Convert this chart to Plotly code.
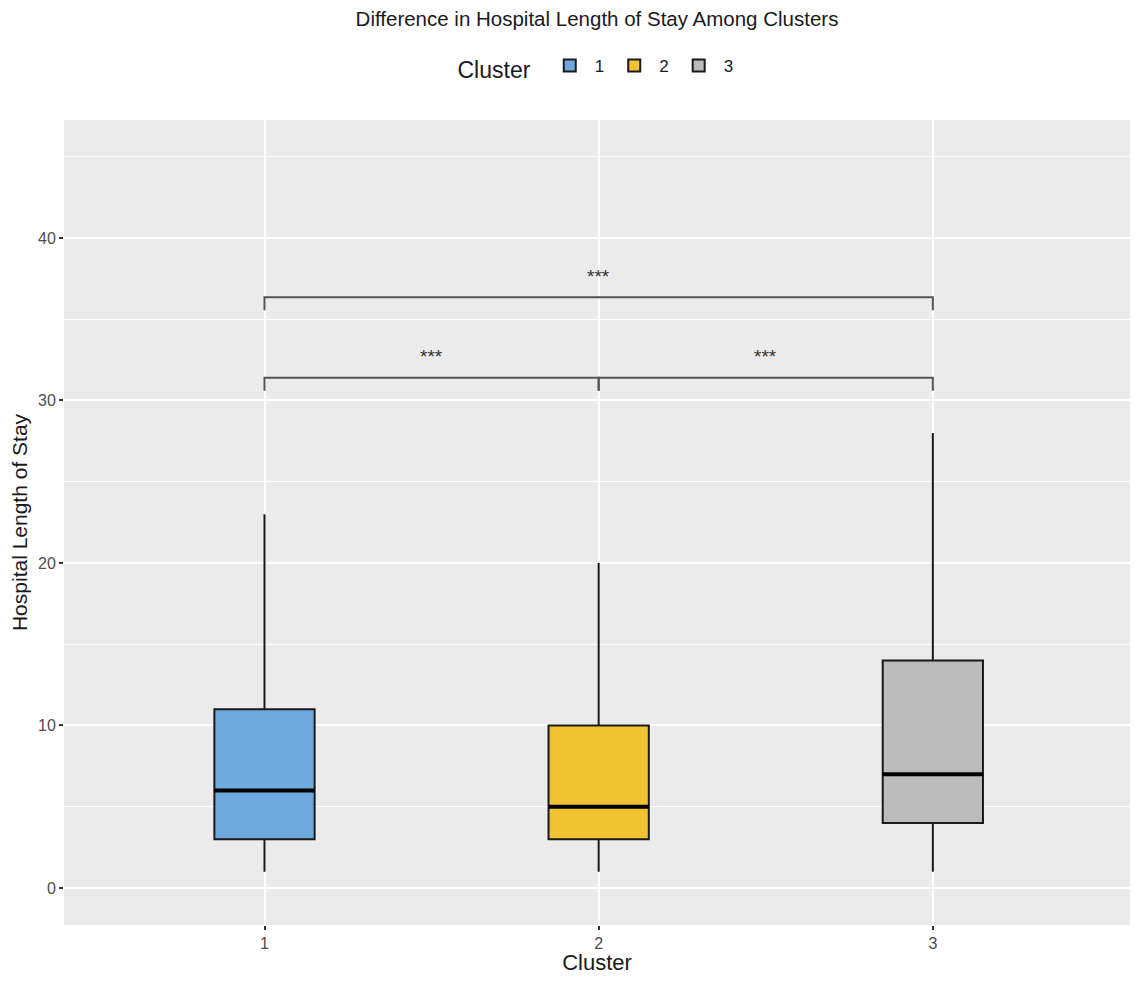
import plotly.graph_objects as go

# box statistics
clusters = [1, 2, 3]
cluster_names = ['1', '2', '3']
q1 = [3, 3, 4]
median = [6, 5, 7]
q3 = [11, 10, 14]
lower_whisker = [1, 1, 1]
upper_whisker = [23, 20, 28]
fill_colors = ['#6FA8DC', '#F1C232', '#BBBBBB']

# significance brackets (pairwise comparisons)
comparisons = [(1, 2), (2, 3), (1, 3)]
bracket_y = [31.4, 31.4, 36.35]
bracket_labels = ['***', '***', '***']
tip_len = 0.8

box_width = 0.3

fig = go.Figure()

for i, c in enumerate(clusters):
    fig.add_trace(go.Box(
        x=[c], q1=[q1[i]], median=[median[i]], q3=[q3[i]],
        lowerfence=[lower_whisker[i]], upperfence=[upper_whisker[i]],
        name=cluster_names[i], width=box_width,
        fillcolor=fill_colors[i], line=dict(color='#1a1a1a', width=2),
        boxpoints=False, whiskerwidth=0, showlegend=True,
        hoverinfo='skip'
    ))
    # thicker median line like ggplot
    fig.add_trace(go.Scatter(
        x=[c - box_width / 2, c + box_width / 2], y=[median[i], median[i]],
        mode='lines', line=dict(color='black', width=4),
        showlegend=False, hoverinfo='skip'
    ))

for (a, b), h, lab in zip(comparisons, bracket_y, bracket_labels):
    fig.add_trace(go.Scatter(
        x=[a, a, b, b], y=[h - tip_len, h, h, h - tip_len],
        mode='lines', line=dict(color='#555555', width=2),
        showlegend=False, hoverinfo='skip'
    ))
    fig.add_annotation(x=(a + b) / 2, y=h + 1.3, text=lab, showarrow=False,
                       font=dict(size=19, color='#333333'))

# page has an 8px body margin, so the figure is kept inside the window
fig.update_layout(
    width=1122, height=967,
    margin=dict(l=56, r=0, t=112, b=50),
    paper_bgcolor='white', plot_bgcolor='#EBEBEB',
    font=dict(family='Liberation Sans, Arial', color='#1a1a1a'),
    title=dict(text='Difference in Hospital Length of Stay Among Clusters',
               x=0.5, xref='paper', xanchor='center', y=0.9885, yanchor='middle',
               font=dict(size=20.5, color='#1a1a1a')),
    legend=dict(orientation='h', x=0.5, xanchor='center', yref='container', y=0.938,
                yanchor='middle',
                title=dict(text='Cluster ', font=dict(size=23)),
                font=dict(size=17), itemwidth=40, bgcolor='rgba(0,0,0,0)'),
    boxgap=0,
)

fig.update_xaxes(
    range=[0.4, 3.59], tickmode='array', tickvals=clusters, ticktext=cluster_names,
    showgrid=True, gridcolor='white', gridwidth=2, zeroline=False,
    ticks='outside', ticklen=4, tickcolor='#333333', tickwidth=2,
    tickfont=dict(size=16, color='#4D4D4D'), automargin=False,
    title=dict(text='Cluster', font=dict(size=22), standoff=11),
)
fig.update_yaxes(
    range=[-2.28, 47.26], tickmode='array', tickvals=[0, 10, 20, 30, 40],
    showgrid=True, gridcolor='white', gridwidth=2, zeroline=False,
    minor=dict(tickvals=[5, 15, 25, 35, 45], showgrid=True, gridcolor='white', gridwidth=1),
    ticks='outside', ticklen=4, tickcolor='#333333', tickwidth=2,
    tickfont=dict(size=16, color='#4D4D4D'), automargin=False,
    title=dict(text='Hospital Length of Stay', font=dict(size=21), standoff=12),
)

fig.write_html("out.html")
